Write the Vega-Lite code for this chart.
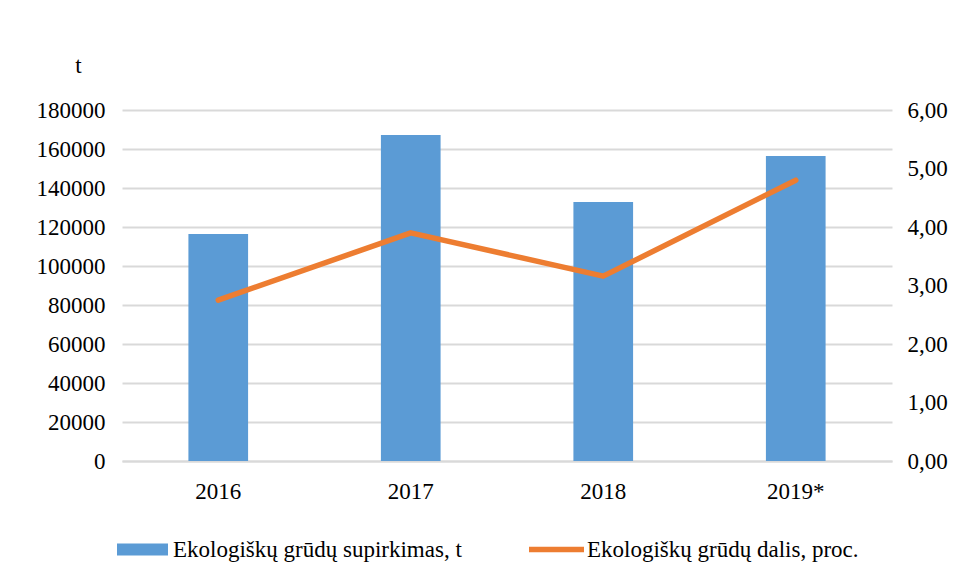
{
  "$schema": "https://vega.github.io/schema/vega-lite/v6.json",
  "width": 770,
  "height": 351,
  "autosize": {"type": "none"},
  "padding": {"left": 122, "top": 110, "right": 64, "bottom": 121},
  "background": "white",
  "config": {
    "font": "Liberation Serif",
    "view": {"stroke": null},
    "axis": {"labelFont": "Liberation Serif", "labelFontSize": 23, "labelColor": "#000000", "titleFont": "Liberation Serif", "titleColor": "#000000"},
    "legend": {"labelFont": "Liberation Serif", "labelFontSize": 23, "labelColor": "#000000", "padding": 0}
  },
  "data": {
    "values": [
      {"metai": "2016", "t": 116400, "proc": 2.75},
      {"metai": "2017", "t": 167200, "proc": 3.9},
      {"metai": "2018", "t": 132800, "proc": 3.16},
      {"metai": "2019*", "t": 156400, "proc": 4.8}
    ]
  },
  "encoding": {
    "x": {
      "field": "metai",
      "type": "ordinal",
      "sort": null,
      "scale": {"paddingInner": 0.69, "paddingOuter": 0.345},
      "axis": {"title": null, "labelAngle": 0, "ticks": false, "labelPadding": 19, "domainColor": "#d9d9d9", "domainWidth": 2}
    }
  },
  "layer": [
    {
      "mark": {"type": "bar", "stroke": null},
      "encoding": {
        "y": {
          "field": "t",
          "type": "quantitative",
          "scale": {"domain": [0, 180000]},
          "axis": {
            "title": "t",
            "titleAngle": 0,
            "titleFontSize": 23,
            "titleFontWeight": "normal",
            "titleX": -44,
            "titleY": -45,
            "titleAlign": "center",
            "titleBaseline": "middle",
            "values": [0, 20000, 40000, 60000, 80000, 100000, 120000, 140000, 160000, 180000],
            "format": "d",
            "ticks": false,
            "domain": false,
            "labelPadding": 17,
            "gridColor": "#d9d9d9",
            "gridWidth": 2
          }
        },
        "fill": {
          "datum": "Ekologiškų grūdų supirkimas, t",
          "scale": {"range": ["#5b9bd5"]},
          "legend": {
            "title": null,
            "orient": "none",
            "legendX": -5,
            "legendY": 414,
            "symbolType": "M-1,-0.235H1V0.235H-1Z",
            "symbolSize": 2601,
            "symbolStrokeWidth": 0,
            "labelOffset": 5,
            "labelLimit": 500
          }
        }
      }
    },
    {
      "mark": {"type": "line", "strokeWidth": 5.5, "strokeCap": "round", "strokeJoin": "round"},
      "encoding": {
        "y": {
          "field": "proc",
          "type": "quantitative",
          "scale": {"domain": [0, 6]},
          "axis": {
            "title": null,
            "orient": "right",
            "values": [0, 1, 2, 3, 4, 5, 6],
            "labelExpr": "replace(format(datum.value, '.2f'), '.', ',')",
            "ticks": false,
            "domain": false,
            "grid": false,
            "labelPadding": 15
          }
        },
        "stroke": {
          "datum": "Ekologiškų grūdų dalis, proc.",
          "scale": {"range": ["#ed7d31"]},
          "legend": {
            "title": null,
            "orient": "none",
            "legendX": 404,
            "legendY": 409,
            "symbolType": "stroke",
            "symbolSize": 3025,
            "symbolStrokeWidth": 5.5,
            "labelOffset": 0,
            "labelLimit": 500
          }
        }
      }
    }
  ],
  "resolve": {"scale": {"y": "independent"}}
}
